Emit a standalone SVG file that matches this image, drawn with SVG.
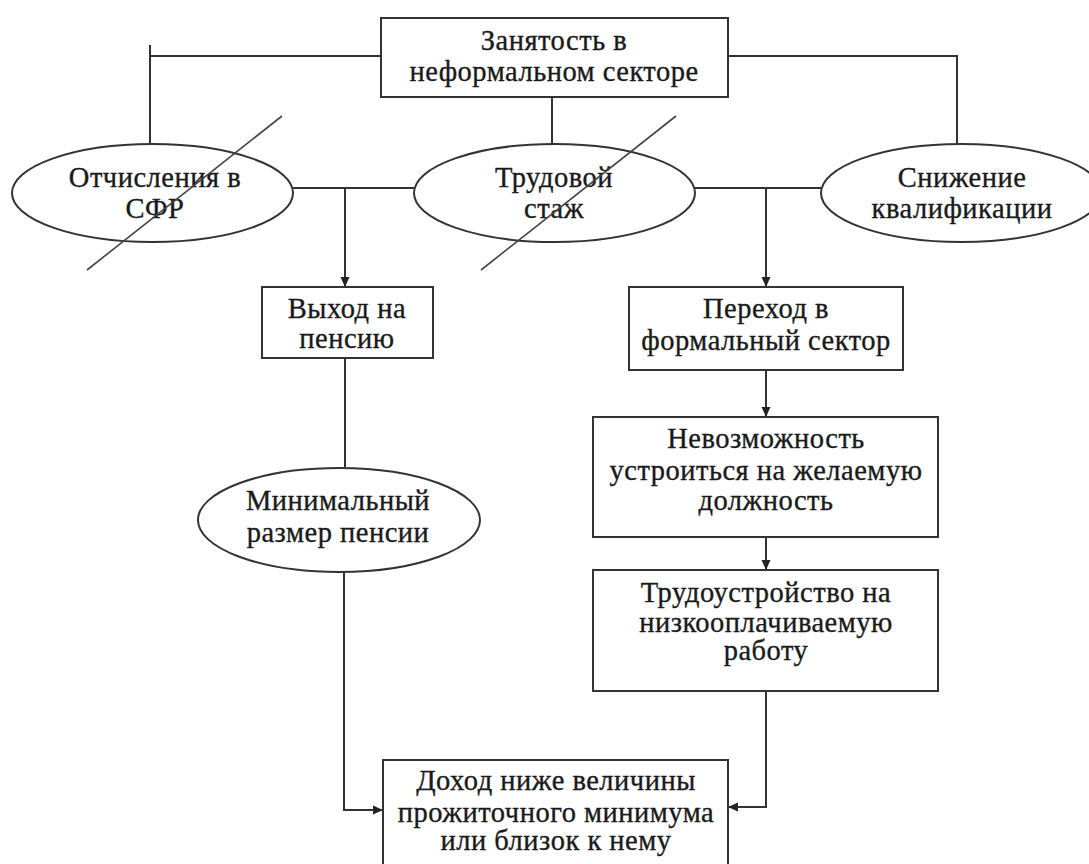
<svg xmlns="http://www.w3.org/2000/svg" width="1089" height="864" viewBox="0 0 1089 864">
<defs>
<marker id="ah" markerWidth="10" markerHeight="10" refX="9" refY="5" orient="auto" markerUnits="userSpaceOnUse">
<path d="M0,0.5 L10,5 L0,9.5 Z" fill="#222"/>
</marker>
<style>
.n{fill:#fff;stroke:#333;stroke-width:2}
.c{fill:none;stroke:#333;stroke-width:2}
.s{fill:none;stroke:#444;stroke-width:1.6}
text{font-family:"Liberation Serif","DejaVu Serif",serif;font-size:28.5px;letter-spacing:0.5px;fill:#1a1a1a;stroke:#1a1a1a;stroke-width:0.35;text-anchor:middle}
</style>
</defs>
<rect width="1089" height="864" fill="#fff"/>
<g id="connectors">
<path class="c" d="M381,56 H150 V144"/>
<path class="c" d="M150,45 V56"/>
<path class="c" d="M728,56 H957 V144"/>
<path class="c" d="M552,97 V144"/>
<path class="c" d="M293,188 H414"/>
<path class="c" d="M345,188 V286" marker-end="url(#ah)"/>
<path class="c" d="M695,188 H821"/>
<path class="c" d="M766,188 V286" marker-end="url(#ah)"/>
<path class="c" d="M345,358 V467"/>
<path class="c" d="M766,370 V416" marker-end="url(#ah)"/>
<path class="c" d="M766,537 V569" marker-end="url(#ah)"/>
<path class="c" d="M344,572 V810 H382" marker-end="url(#ah)"/>
<path class="c" d="M766,691 V807 H729" marker-end="url(#ah)"/>
</g>
<g id="top">
<rect class="n" x="381" y="18" width="347" height="79"/>
<text x="554" y="50">Занятость в</text>
<text x="554" y="81">неформальном секторе</text>
</g>
<g id="sfr">
<ellipse class="n" cx="152.5" cy="193" rx="140.5" ry="49"/>
<text x="155" y="187">Отчисления в</text>
<text x="155" y="218">СФР</text>
</g>
<g id="stazh">
<ellipse class="n" cx="554.5" cy="193" rx="140.5" ry="49"/>
<text x="554" y="187">Трудовой</text>
<text x="554" y="218">стаж</text>
</g>
<g id="strikes">
<line class="s" x1="282" y1="116" x2="87" y2="270"/>
<line class="s" x1="676" y1="116" x2="481" y2="270"/>
</g>
<g id="kval">
<ellipse class="n" cx="961.5" cy="193" rx="140.5" ry="49"/>
<text x="962" y="187">Снижение</text>
<text x="962" y="218">квалификации</text>
</g>
<g id="pension">
<rect class="n" x="262" y="287" width="171" height="71"/>
<text x="347" y="318">Выход на</text>
<text x="347" y="348">пенсию</text>
</g>
<g id="formal">
<rect class="n" x="629" y="287" width="274" height="83"/>
<text x="766" y="318">Переход в</text>
<text x="766" y="350">формальный сектор</text>
</g>
<g id="minpens">
<ellipse class="n" cx="339" cy="520" rx="141" ry="52"/>
<text x="338" y="510">Минимальный</text>
<text x="338" y="542">размер пенсии</text>
</g>
<g id="nevozm">
<rect class="n" x="593" y="417" width="345" height="120"/>
<text x="766" y="448">Невозможность</text>
<text x="766" y="480">устроиться на желаемую</text>
<text x="766" y="510">должность</text>
</g>
<g id="trud">
<rect class="n" x="593" y="570" width="345" height="121"/>
<text x="766" y="602">Трудоустройство на</text>
<text x="766" y="632">низкооплачиваемую</text>
<text x="766" y="660">работу</text>
</g>
<g id="income">
<rect class="n" x="383" y="760" width="345" height="130"/>
<text x="556" y="790">Доход ниже величины</text>
<text x="556" y="822">прожиточного минимума</text>
<text x="556" y="850">или близок к нему</text>
</g>
</svg>
